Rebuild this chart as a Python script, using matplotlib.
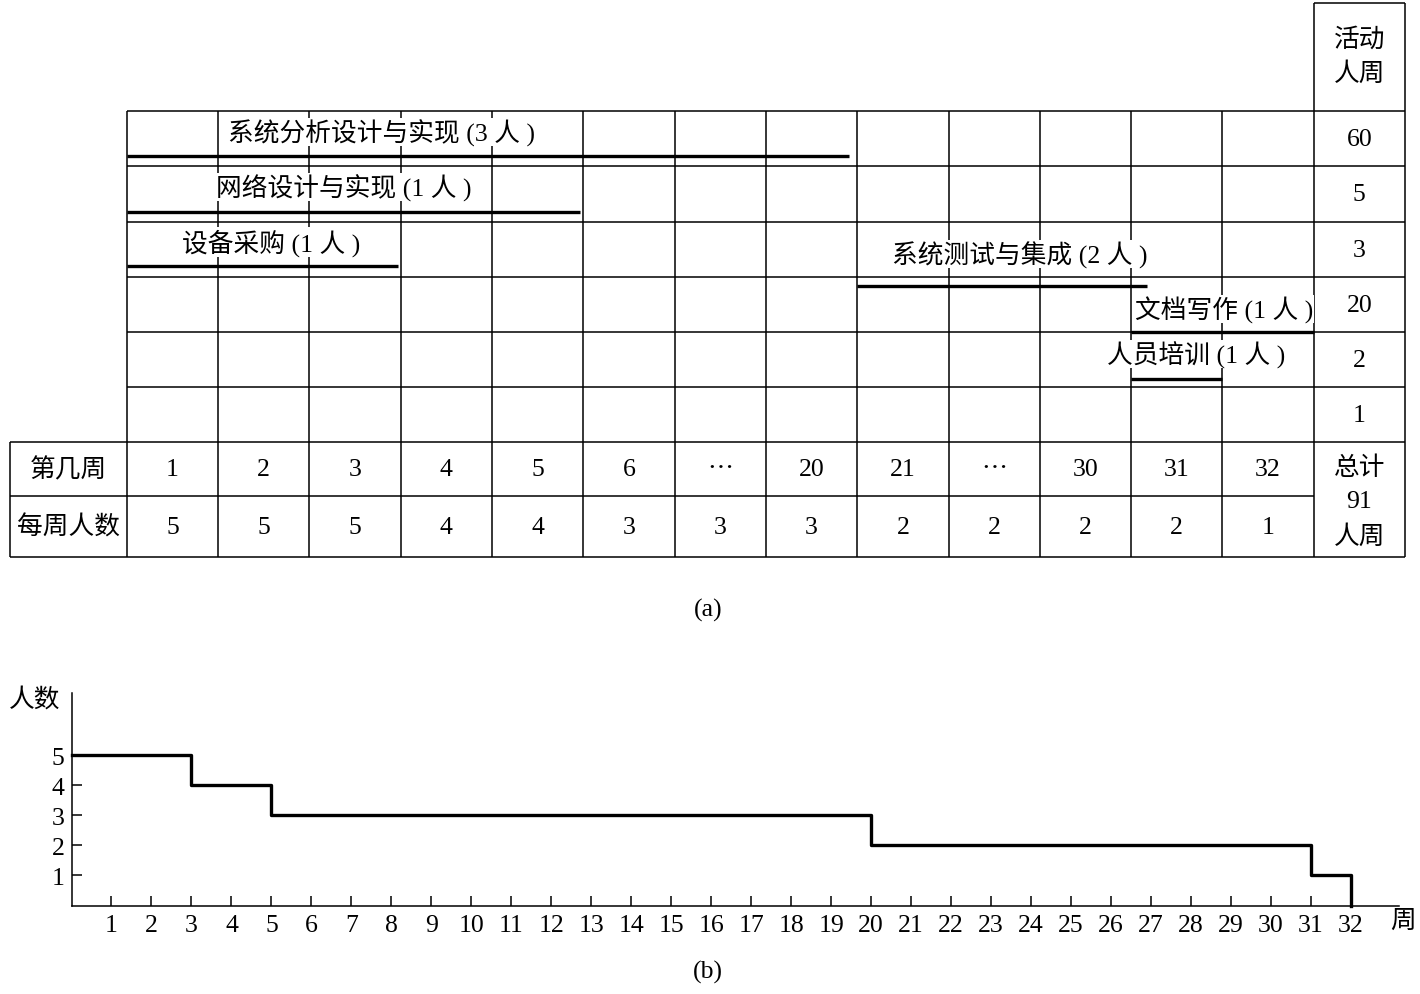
import numpy as np
import matplotlib.pyplot as plt

plt.rcParams['font.family'] = ['Liberation Serif', 'Noto Sans CJK SC', 'DejaVu Sans']
plt.rcParams['font.size'] = 18.5

# (a) 表格
weeks = ["1", "2", "3", "4", "5", "6", "⋯", "20", "21", "⋯", "30", "31", "32"]
people = [5, 5, 5, 4, 4, 3, 3, 3, 2, 2, 2, 2, 1]
tasks = ["系统分析设计与实现 (3 人 )", "网络设计与实现 (1 人 )", "设备采购 (1 人 )",
         "系统测试与集成 (2 人 )", "文档写作 (1 人 )", "人员培训 (1 人 )"]
task_start = [0, 0, 0, 8, 11, 11]      # 以表格列为单位
task_end = [7.91, 4.96, 2.97, 11.17, 13, 12]
task_pw = [60, 5, 3, 20, 2, 1]
total_pw = 91

# (b) 人数随周变化
step_x = [0, 3, 5, 20, 31, 32]
step_y = [5, 4, 3, 2, 1, 0]

# 版面 (像素)
W, H = 1420, 995
row_y = [112, 167, 223, 278, 333, 388, 443, 497, 558]
bar_y = [157, 213, 267, 287, 333, 380]
label_x = [2.79, 2.38, 1.58, 9.78, 12.02, 11.71]
label_y = [133, 188, 243, 255, 310, 355]


def frac(x0, y0, x1, y1):
    return [x0 / W, 1 - y1 / H, (x1 - x0) / W, (y1 - y0) / H]


fig = plt.figure(figsize=(14.2, 9.95), dpi=100)

ax = fig.add_axes(frac(10, 4, 1405, 558))
ax.set_xlim(-1.28, 14)
ax.set_ylim(558, 4)
ax.axis('off')

kw = dict(color='k', lw=1.1, clip_on=False)
ax.hlines(row_y[:6], 0, 14, **kw)
ax.hlines([443, 558], -1.28, 14, **kw)
ax.hlines(497, -1.28, 13, **kw)
ax.hlines(4, 13, 14, **kw)
ax.vlines(range(13), 112, 558, **kw)
ax.vlines([13, 14], 4, 558, **kw)
ax.vlines(-1.28, 443, 558, **kw)

# 活动横线
ax.hlines(bar_y, task_start, task_end, color='k', lw=2.4, zorder=4)
for i in range(len(tasks)):
    ax.text(label_x[i], label_y[i], tasks[i], ha='center', va='center', zorder=3,
            bbox=dict(fc='white', ec='none', pad=0.5))
    ax.text(13.5, (row_y[i] + row_y[i + 1]) / 2, str(task_pw[i]), ha='center', va='center')

ax.text(13.5, 57, "活动\n人周", ha='center', va='center', linespacing=1.55)
ax.text(13.5, 503, "总计\n" + str(total_pw) + "\n人周", ha='center', va='center', linespacing=1.65)

ax.text(-0.64, 470, "第几周", ha='center', va='center')
ax.text(-0.64, 527, "每周人数", ha='center', va='center')
for i in range(len(weeks)):
    ax.text(i + 0.5, 470, weeks[i], ha='center', va='center')
    ax.text(i + 0.5, 528, str(people[i]), ha='center', va='center')

fig.text(708 / W, 1 - 610 / H, "(a)", ha='center', va='center')

# (b)
bx = fig.add_axes(frac(71.5, 694, 1399, 906.5))
bx.step(step_x, step_y, where='post', color='k', lw=2.4, clip_on=False)
bx.set_xlim(0, 33.2)
bx.set_ylim(0, 7.08)
bx.spines[['top', 'right']].set_visible(False)
bx.spines[['left', 'bottom']].set_linewidth(1.1)
bx.set_xticks(range(1, 33))
bx.set_yticks(range(1, 6))
bx.tick_params(direction='in', length=7, width=1.1, labelsize=18.5)
bx.tick_params(axis='x', pad=6)
bx.tick_params(axis='y', pad=5)

fig.text(35 / W, 1 - 700 / H, "人数", ha='center', va='center')
fig.text(1403 / W, 1 - 922 / H, "周", ha='center', va='center')
fig.text(708 / W, 1 - 972 / H, "(b)", ha='center', va='center')

plt.savefig("out.png", dpi=100)
